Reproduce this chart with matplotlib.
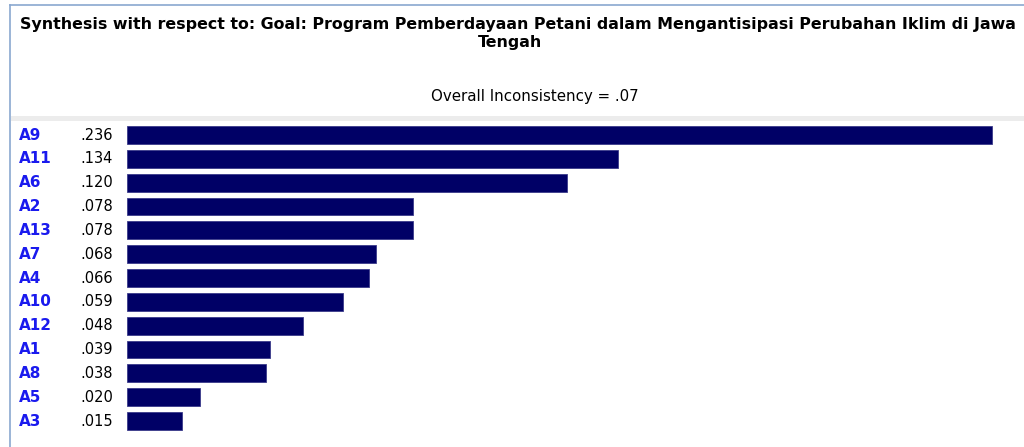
import matplotlib
matplotlib.use("Agg")
import matplotlib.pyplot as plt
from matplotlib.lines import Line2D
from matplotlib.patches import Rectangle
import matplotlib.transforms as mtransforms

# data
labels = ["A9", "A11", "A6", "A2", "A13", "A7", "A4", "A10", "A12", "A1", "A8", "A5", "A3"]
values = [0.236, 0.134, 0.120, 0.078, 0.078, 0.068, 0.066, 0.059, 0.048, 0.039, 0.038, 0.020, 0.015]
value_text = [".236", ".134", ".120", ".078", ".078", ".068", ".066", ".059", ".048", ".039", ".038", ".020", ".015"]
title_lines = ["Synthesis with respect to: Goal: Program Pemberdayaan Petani dalam Mengantisipasi Perubahan Iklim di Jawa",
               "Tengah"]
subtitle = "Overall Inconsistency = .07"

W, H = 1024, 447
fig = plt.figure(figsize=(W / 100, H / 100), dpi=100)
fig.patch.set_facecolor("white")

def fx(px):
    return px / W

def fy(py):
    return 1 - py / H

# frame lines and separator band
fig.add_artist(Line2D([fx(10), 1], [fy(5), fy(5)], color="#8aa8d0", lw=1.2))
fig.add_artist(Line2D([fx(10), fx(10)], [fy(5), 0], color="#8aa8d0", lw=1.2))
fig.add_artist(Rectangle((fx(11), fy(121)), 1 - fx(11), 5 / H, transform=fig.transFigure,
                         facecolor="#ececec", edgecolor="none"))

# titles
fig.text(fx(518), fy(24), title_lines[0], ha="center", va="center",
         fontsize=11.4, fontweight="bold", family="DejaVu Sans")
fig.text(fx(510), fy(43), title_lines[1], ha="center", va="center",
         fontsize=11.4, fontweight="bold", family="DejaVu Sans")
fig.text(fx(535), fy(97), subtitle, ha="center", va="center", fontsize=10.8, family="DejaVu Sans")

# bar area
scale = 3665.0  # px per unit
ax = fig.add_axes([fx(127), 0, 1 - fx(127), fy(123)])
ax.set_xlim(0, (W - 127) / scale)
ax.set_ylim(13.09, -0.504)
ax.axis("off")

pos = list(range(len(labels)))
ax.barh(pos, values, height=0.75, left=0, color="#000066", edgecolor="#3a3a8a", linewidth=0.6)

trans = mtransforms.blended_transform_factory(fig.transFigure, ax.transData)
for i, (lab, vt) in enumerate(zip(labels, value_text)):
    ax.text(fx(19), i, lab, transform=trans, ha="left", va="center",
            fontsize=11, fontweight="bold", color="#1a1aee", clip_on=False)
    ax.text(fx(80), i, vt, transform=trans, ha="left", va="center",
            fontsize=10.5, color="black", clip_on=False)

fig.savefig("out.png", dpi=100, facecolor="white")
